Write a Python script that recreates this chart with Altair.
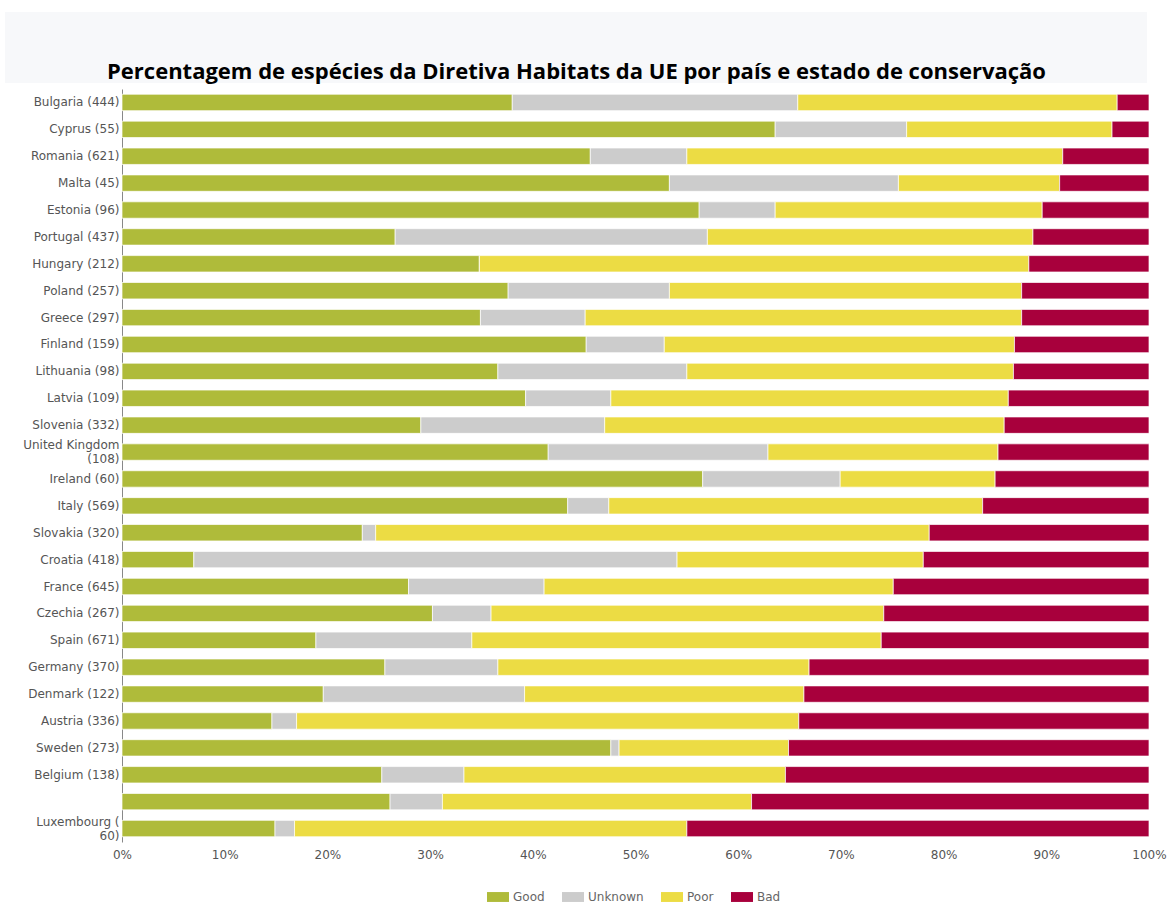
import altair as alt
import pandas as pd

countries = [
    "Bulgaria (444)", "Cyprus (55)", "Romania (621)", "Malta (45)", "Estonia (96)",
    "Portugal (437)", "Hungary (212)", "Poland (257)", "Greece (297)", "Finland (159)",
    "Lithuania (98)", "Latvia (109)", "Slovenia (332)", "United Kingdom|(108)", "Ireland (60)",
    "Italy (569)", "Slovakia (320)", "Croatia (418)", "France (645)", "Czechia (267)",
    "Spain (671)", "Germany (370)", "Denmark (122)", "Austria (336)", "Sweden (273)",
    "Belgium (138)", " ", "Luxembourg (|60)",
]
good = [38.0, 63.6, 45.6, 53.3, 56.2, 26.6, 34.8, 37.6, 34.9, 45.2,
        36.6, 39.3, 29.1, 41.5, 56.6, 43.4, 23.4, 7.0, 27.9, 30.2,
        18.9, 25.6, 19.6, 14.6, 47.6, 25.3, 26.1, 14.9]
unknown = [27.8, 12.8, 9.4, 22.3, 7.4, 30.4, 0.0, 15.7, 10.2, 7.6,
           18.4, 8.3, 17.9, 21.4, 13.4, 4.0, 1.3, 47.1, 13.2, 5.7,
           15.2, 11.0, 19.6, 2.4, 0.8, 8.0, 5.1, 1.9]
poor = [31.1, 20.0, 36.6, 15.7, 26.0, 31.7, 53.5, 34.3, 42.5, 34.1,
        31.8, 38.7, 38.9, 22.4, 15.1, 36.4, 53.9, 24.0, 34.0, 38.2,
        39.9, 30.3, 27.2, 48.9, 16.5, 31.3, 30.1, 38.2]
bad = [3.1, 3.6, 8.4, 8.7, 10.4, 11.3, 11.7, 12.4, 12.4, 13.1,
       13.2, 13.7, 14.1, 14.7, 15.0, 16.2, 21.4, 22.0, 24.9, 25.8,
       26.1, 33.1, 33.6, 34.1, 35.1, 35.4, 38.7, 45.0]

statuses = ["Good", "Unknown", "Poor", "Bad"]
colors = ["#afbb3a", "#cccccc", "#ecdc44", "#a8003c"]
x_ticks = [0, 0.1, 0.2, 0.3, 0.4, 0.5, 0.6, 0.7, 0.8, 0.9, 1.0]
title_text = "Percentagem de espécies da Diretiva Habitats da UE por país e estado de conservação"

rows = []
for i, c in enumerate(countries):
    for j, (s, vals) in enumerate(zip(statuses, [good, unknown, poor, bad])):
        rows.append({"country": c, "status": s, "order": j, "value": vals[i]})
df = pd.DataFrame(rows)

bars = alt.Chart(df).mark_bar(stroke="white", strokeWidth=0.7).encode(
    y=alt.Y(
        "country:N",
        sort=countries,
        scale=alt.Scale(paddingInner=0.39, paddingOuter=0.195),
        axis=alt.Axis(
            title=None,
            labelExpr="split(datum.label, '|')",
            ticks=False,
            domainColor="#888888",
            labelFont="DejaVu Sans",
            labelFontSize=12,
            labelColor="#555555",
            labelPadding=3,
            labelLineHeight=14,
            labelOffset={"condition": {"test": "indexof(datum.label, '|') >= 0", "value": -7}, "value": 0},
        ),
    ),
    x=alt.X(
        "value:Q",
        stack="normalize",
        scale=alt.Scale(domain=[0, 1], nice=False),
        axis=alt.Axis(
            title=None,
            format="%",
            values=x_ticks,
            grid=False,
            domain=False,
            ticks=False,
            labelFlush=False,
            labelFont="DejaVu Sans",
            labelFontSize=12,
            labelColor="#555555",
            labelPadding=7,
        ),
    ),
    color=alt.Color(
        "status:N",
        scale=alt.Scale(domain=statuses, range=colors),
        legend=alt.Legend(
            title=None,
            orient="none",
            direction="horizontal",
            legendX=365,
            legendY=797,
            symbolType="M-1,-0.45H1V0.45H-1Z",
            symbolSize=484,
            symbolStrokeWidth=0,
            labelFont="DejaVu Sans",
            labelFontSize=12,
            labelColor="#666666",
            labelOffset=4,
            columnPadding=17,
        ),
    ),
    order=alt.Order("order:Q"),
)

title_bg = alt.Chart(alt.Data(values=[{}])).mark_rect(color="#f7f8fa").encode(
    x=alt.value(-117), x2=alt.value(1025), y=alt.value(-77), y2=alt.value(-6)
)

chart = alt.layer(title_bg, bars).properties(
    width=1027,
    height=753,
    title=alt.Title(
        title_text,
        font="Open Sans",
        fontSize=22,
        fontWeight="bold",
        color="#000000",
        anchor="middle",
        dx=-59,
        offset=-72,
        zindex=1,
    ),
    autosize=alt.AutoSizeParams(type="none"),
    padding={"left": 122, "top": 89, "right": 21, "bottom": 64},
    background="white",
).configure_view(stroke=None)

chart.save("out.html", embed_options={"renderer": "svg", "actions": False})
